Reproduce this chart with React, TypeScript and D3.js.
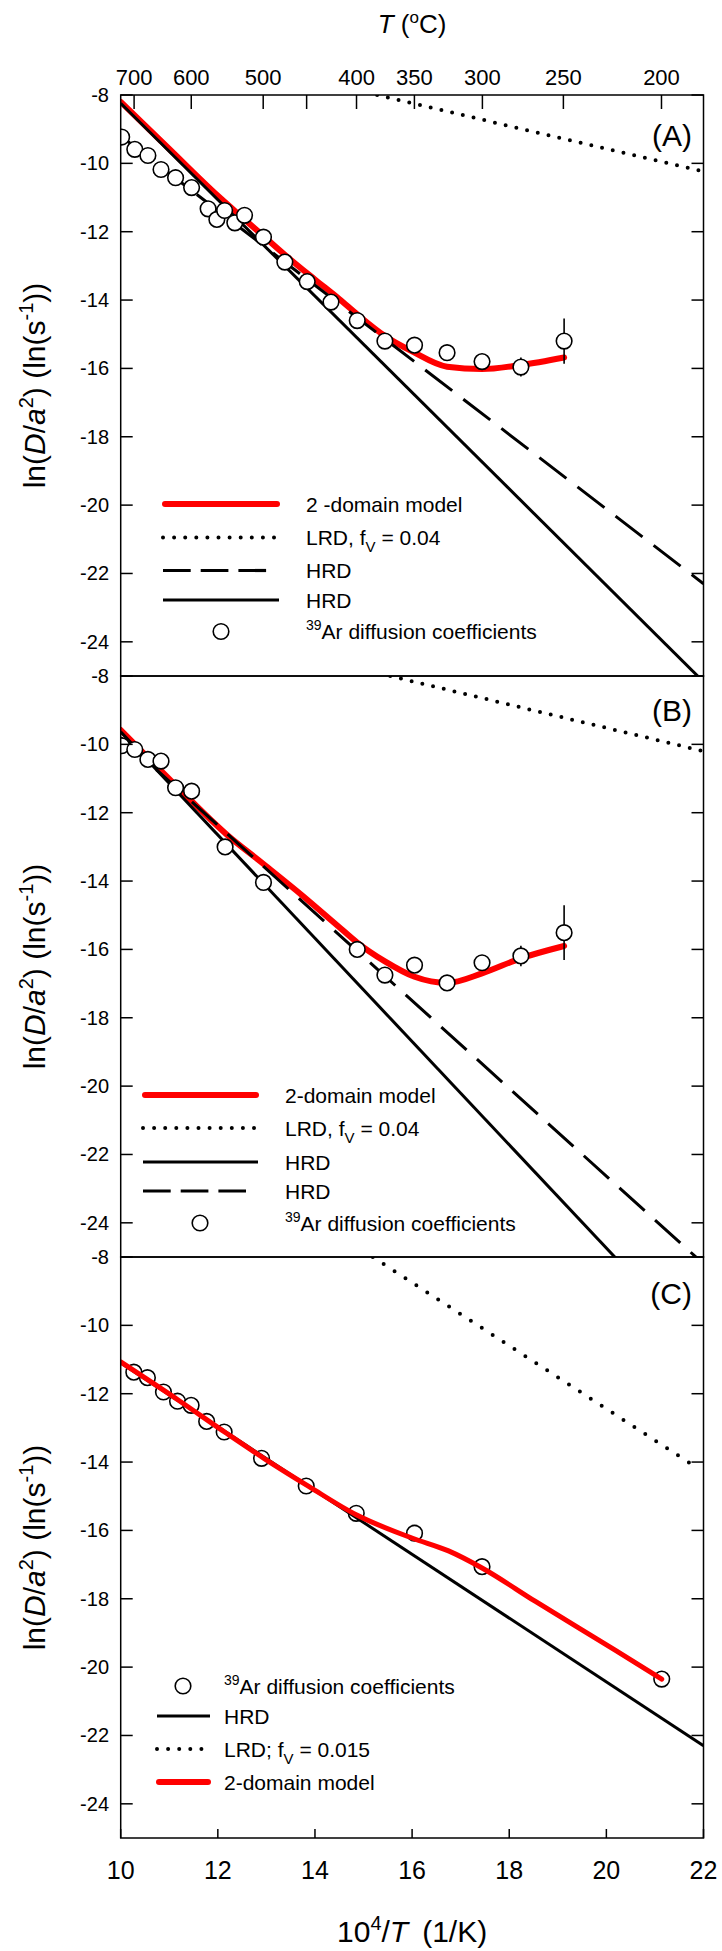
import React from 'react';
import * as d3 from 'd3';

const W = 722;
const H = 1951;
const FONT = '"Liberation Sans", Arial, Helvetica, sans-serif';

// axes
const xTicks = [10, 12, 14, 16, 18, 20, 22];
const yTicks = [-8, -10, -12, -14, -16, -18, -20, -22, -24];
const tempTicks = [700, 600, 500, 450, 400, 350, 300, 250, 200];
const tempLabels = [700, 600, 500, 400, 350, 300, 250, 200];

// panel A
const ptsA = [
  [10.02, -9.23], [10.29, -9.59], [10.56, -9.77], [10.83, -10.18], [11.13, -10.42],
  [11.46, -10.71], [11.8, -11.33], [11.98, -11.64], [12.14, -11.38], [12.35, -11.74],
  [12.55, -11.52], [12.94, -12.16], [13.38, -12.89], [13.84, -13.46], [14.33, -14.06],
  [14.87, -14.6], [15.44, -15.2], [16.05, -15.32], [16.72, -15.54], [17.44, -15.8],
  [18.24, -15.96], [19.13, -15.2],
];
const errA = [[18.24, -15.96, 0.28], [19.13, -15.2, 0.66]];
const modelA = [
  [10, -8.2], [11, -9.58], [12, -10.95], [12.5, -11.58], [13, -12.2], [13.5, -12.82],
  [14, -13.4], [14.5, -13.97], [14.87, -14.42], [15.44, -15.05], [16, -15.5],
  [16.72, -15.95], [17.44, -16.02], [18.24, -15.9], [19.13, -15.68],
];
const lrdA = [[15.28, -8], [22, -10.24]];
const hrdDashA = [[10, -9.2], [22, -22.3]];
const hrdSolidA = [[10, -8.24], [22, -25.17]];

// panel B
const ptsB = [
  [10.02, -10.04], [10.29, -10.15], [10.56, -10.44], [10.83, -10.49], [11.13, -11.27],
  [11.46, -11.37], [12.15, -13.0], [12.94, -14.04], [14.87, -16.0], [15.44, -16.75],
  [16.05, -16.46], [16.72, -16.98], [17.44, -16.39], [18.24, -16.19], [19.13, -15.51],
];
const errB = [[18.24, -16.19, 0.3], [19.13, -15.51, 0.8]];
const modelB = [
  [10, -9.58], [10.78, -10.7], [11.43, -11.62], [12.17, -12.62], [12.94, -13.5],
  [13.72, -14.4], [14.46, -15.3], [14.87, -15.8], [15.44, -16.35], [16.05, -16.8],
  [16.72, -16.98], [17.44, -16.7], [18.24, -16.26], [19.13, -15.9],
];
const lrdB = [[15.55, -8], [22, -10.2]];
const hrdSolidB = [[10, -9.63], [22, -27.76]];
const hrdDashB = [[10, -9.8], [22, -25.2]];

// panel C
const ptsC = [
  [10.27, -11.37], [10.55, -11.53], [10.88, -11.95], [11.17, -12.22], [11.45, -12.34],
  [11.77, -12.81], [12.13, -13.12], [12.9, -13.89], [13.82, -14.7], [14.85, -15.5],
  [16.05, -16.08], [17.44, -17.06], [21.14, -20.35],
];
const modelC = [
  [10, -11.07], [11.19, -12.19], [12.17, -13.15], [12.98, -13.92], [13.88, -14.72],
  [14.86, -15.55], [16.01, -16.23], [16.75, -16.6], [17.44, -17.1], [18.54, -18.08],
  [20.18, -19.5], [21.14, -20.35],
];
const lrdC = [[15.19, -8], [21.85, -14.15]];
const hrdSolidC = [[10, -11.1], [22, -22.3]];

const x = d3.scaleLinear().domain([10, 22]).range([120.7, 703.5]);
const PH = 581;

const ArLabel = () => (
  <>
    <tspan dy={-9} fontSize={14}>39</tspan>
    <tspan dy={9}>Ar diffusion coefficients</tspan>
  </>
);

const LrdLabel = ({ sep, fv }) => (
  <>
    <tspan>LRD{sep} f</tspan>
    <tspan dy={7} fontSize={15}>V</tspan>
    <tspan dy={-7}> = {fv}</tspan>
  </>
);

const panels = [
  {
    key: 'A', top: 95, label: '(A)', labelY: 146, pts: ptsA, err: errA, model: modelA,
    lrd: lrdA, dash: hrdDashA, solid: hrdSolidA, dotGap: 11, modelW: 6, linesOver: false,
    legend: {
      x0: 165, x1: 277, tx: 306, cx: 221,
      rows: [
        { type: 'model', y: 504, label: <tspan>2 -domain model</tspan> },
        { type: 'dot', y: 537.5, label: <LrdLabel sep="," fv="0.04" /> },
        { type: 'dash', y: 570.5, label: <tspan>HRD</tspan> },
        { type: 'solid', y: 600, label: <tspan>HRD</tspan> },
        { type: 'circle', y: 631.5, label: <ArLabel /> },
      ],
    },
  },
  {
    key: 'B', top: 676, label: '(B)', labelY: 721, pts: ptsB, err: errB, model: modelB,
    lrd: lrdB, dash: hrdDashB, solid: hrdSolidB, dotGap: 11, modelW: 6, linesOver: false,
    legend: {
      x0: 145, x1: 256, tx: 285, cx: 200,
      rows: [
        { type: 'model', y: 1095, label: <tspan>2-domain model</tspan> },
        { type: 'dot', y: 1128, label: <LrdLabel sep="," fv="0.04" /> },
        { type: 'solid', y: 1162, label: <tspan>HRD</tspan> },
        { type: 'dash', y: 1191, label: <tspan>HRD</tspan> },
        { type: 'circle', y: 1223, label: <ArLabel /> },
      ],
    },
  },
  {
    key: 'C', top: 1257, label: '(C)', labelY: 1304, pts: ptsC, err: [], model: modelC,
    lrd: lrdC, dash: null, solid: hrdSolidC, dotGap: 13, modelW: 5, linesOver: true,
    legend: {
      x0: 159, x1: 208, tx: 224, cx: 183,
      rows: [
        { type: 'circle', y: 1686, label: <ArLabel /> },
        { type: 'solid', y: 1716, label: <tspan>HRD</tspan> },
        { type: 'dot', y: 1749, label: <LrdLabel sep=";" fv="0.015" /> },
        { type: 'model', y: 1782, label: <tspan>2-domain model</tspan> },
      ],
    },
  },
];

const Panel = ({ p }) => {
  const y = d3.scaleLinear().domain([-25, -8]).range([p.top + PH, p.top]);
  const line = d3.line().x(d => x(d[0])).y(d => y(d[1]));
  const smooth = d3.line().x(d => x(d[0])).y(d => y(d[1])).curve(d3.curveMonotoneX);
  const clipId = `clip-${p.key}`;
  const [x0, x1] = x.range();

  const circles = (
    <g>
      {p.pts.map((d, i) => (
        <circle key={i} cx={x(d[0])} cy={y(d[1])} r={7.8} fill="#fff" stroke="#000" strokeWidth={1.6} />
      ))}
    </g>
  );
  const errs = (
    <g>
      {p.err.map((d, i) => (
        <line key={i} x1={x(d[0])} x2={x(d[0])} y1={y(d[1] + d[2])} y2={y(d[1] - d[2])} stroke="#000" strokeWidth={1.6} />
      ))}
    </g>
  );
  const blackLines = (
    <g fill="none" stroke="#000">
      {p.dash && <path d={line(p.dash)} strokeWidth={3} strokeDasharray="34 14" />}
      <path d={line(p.solid)} strokeWidth={3} />
    </g>
  );
  const red = (
    <path d={smooth(p.model)} fill="none" stroke="#ff0000" strokeWidth={p.modelW} strokeLinecap="round" strokeLinejoin="round" />
  );

  const lg = p.legend;
  return (
    <g>
      <defs>
        <clipPath id={clipId}>
          <rect x={x0} y={p.top} width={x1 - x0} height={PH} />
        </clipPath>
      </defs>
      <g clipPath={`url(#${clipId})`}>
        <path d={line(p.lrd)} fill="none" stroke="#000" strokeWidth={4} strokeLinecap="round" strokeDasharray={`0 ${p.dotGap}`} />
        {p.linesOver ? (
          <>
            {circles}
            {blackLines}
            {red}
          </>
        ) : (
          <>
            {red}
            {blackLines}
            {errs}
            {circles}
          </>
        )}
      </g>

      {/* frame and ticks */}
      <rect x={x0} y={p.top} width={x1 - x0} height={PH} fill="none" stroke="#000" strokeWidth={1.5} />
      {yTicks.map(t => (
        <g key={t}>
          <line x1={x0} x2={x0 + 12} y1={y(t)} y2={y(t)} stroke="#000" strokeWidth={1.5} />
          <line x1={x1 - 12} x2={x1} y1={y(t)} y2={y(t)} stroke="#000" strokeWidth={1.5} />
          <text x={109} y={y(t) + 7} textAnchor="end" fontSize={20}>{t}</text>
        </g>
      ))}
      <text x={692} y={p.labelY} textAnchor="end" fontSize={30}>{p.label}</text>

      <text transform={`translate(45,${p.top + PH / 2}) rotate(-90)`} textAnchor="middle" fontSize={30}>
        <tspan>ln(</tspan>
        <tspan fontStyle="italic">D</tspan>
        <tspan>/</tspan>
        <tspan fontStyle="italic">a</tspan>
        <tspan dy={-12} fontSize={20}>2</tspan>
        <tspan dy={12}>) (ln(s</tspan>
        <tspan dy={-12} fontSize={20}>-1</tspan>
        <tspan dy={12}>))</tspan>
      </text>

      {/* legend */}
      <g>
        {lg.rows.map((r, i) => (
          <g key={i}>
            {r.type === 'model' && (
              <line x1={lg.x0} x2={lg.x1} y1={r.y} y2={r.y} stroke="#ff0000" strokeWidth={6} strokeLinecap="round" />
            )}
            {r.type === 'dot' && (
              <line x1={lg.x0 - 2} x2={lg.x1 + 2} y1={r.y} y2={r.y} stroke="#000" strokeWidth={4} strokeLinecap="round" strokeDasharray="0 11.1" />
            )}
            {r.type === 'dash' && (
              <line x1={lg.x0 - 2} x2={lg.x1 - 10} y1={r.y} y2={r.y} stroke="#000" strokeWidth={3.2} strokeDasharray="27.7 10" />
            )}
            {r.type === 'solid' && (
              <line x1={lg.x0 - 2} x2={lg.x1 + 2} y1={r.y} y2={r.y} stroke="#000" strokeWidth={3.2} />
            )}
            {r.type === 'circle' && (
              <circle cx={lg.cx} cy={r.y} r={7.8} fill="#fff" stroke="#000" strokeWidth={1.6} />
            )}
            <text x={lg.tx} y={r.y + 7.5} fontSize={21}>{r.label}</text>
          </g>
        ))}
      </g>
    </g>
  );
};

export default function App() {
  const top = panels[0].top;
  const bottom = panels[2].top + PH;
  const [x0, x1] = x.range();
  const cx = (x0 + x1) / 2;
  return (
    <div style={{ position: 'absolute', left: 0, top: 0 }}>
      <svg width={W} height={H} viewBox={`0 0 ${W} ${H}`} fontFamily={FONT} style={{ display: 'block', background: '#fff' }}>
        <rect width={W} height={H} fill="#fff" />
        {panels.map(p => <Panel key={p.key} p={p} />)}

        {/* top temperature axis */}
        {tempTicks.map(t => {
          const px = x(1e4 / (t + 273.15));
          return <line key={t} x1={px} x2={px} y1={top} y2={top + 14} stroke="#000" strokeWidth={1.5} />;
        })}
        {tempLabels.map(t => (
          <text key={t} x={x(1e4 / (t + 273.15))} y={85} textAnchor="middle" fontSize={22}>{t}</text>
        ))}
        <text x={cx} y={33} textAnchor="middle" fontSize={26}>
          <tspan fontStyle="italic">T</tspan>
          <tspan> (</tspan>
          <tspan dy={-10} fontSize={17}>o</tspan>
          <tspan dy={10}>C)</tspan>
        </text>

        {/* bottom axis */}
        {xTicks.map(t => (
          <g key={t}>
            <line x1={x(t)} x2={x(t)} y1={bottom} y2={bottom - 9} stroke="#000" strokeWidth={1.5} />
            <text x={x(t)} y={1879} textAnchor="middle" fontSize={25}>{t}</text>
          </g>
        ))}
        <text x={cx} y={1942} textAnchor="middle" fontSize={30}>
          <tspan>10</tspan>
          <tspan dy={-12} fontSize={20}>4</tspan>
          <tspan dy={12}>/</tspan>
          <tspan fontStyle="italic">T</tspan>
          <tspan dx={14}>(1/K)</tspan>
        </text>
      </svg>
    </div>
  );
}
